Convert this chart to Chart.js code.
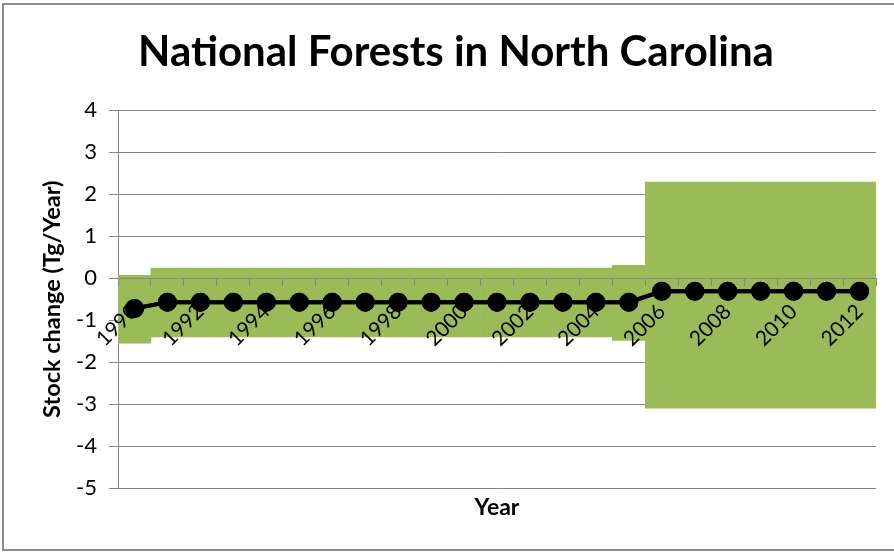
<!DOCTYPE html>
<html>
<head>
<meta charset="utf-8">
<script src="https://cdn.jsdelivr.net/npm/chart.js@4.4.1/dist/chart.umd.min.js"></script>
<style>
  body { margin: 0; background: #fff; }
  #wrap { width: 894px; height: 552px; }
</style>
</head>
<body>
<div id="wrap"><canvas id="trends" width="894" height="552"></canvas></div>
<script>
// years on the category axis
var years = ['1990','1991','1992','1993','1994','1995','1996','1997','1998','1999','2000',
             '2001','2002','2003','2004','2005','2006','2007','2008','2009','2010','2011','2012'];

// stock change estimate (Tg/Year)
var stockChange = [-0.72, -0.57, -0.57, -0.57, -0.57, -0.57, -0.57, -0.57, -0.57, -0.57, -0.57,
                   -0.57, -0.57, -0.57, -0.57, -0.57, -0.31, -0.31, -0.31, -0.31, -0.31, -0.31, -0.31];

// uncertainty band, lower and upper bounds
var lowerBound = [-1.55, -1.40, -1.40, -1.40, -1.40, -1.40, -1.40, -1.40, -1.40, -1.40, -1.40,
                  -1.40, -1.40, -1.40, -1.40, -1.48, -3.10, -3.10, -3.10, -3.10, -3.10, -3.10, -3.10];
var upperBound = [0.07, 0.24, 0.24, 0.24, 0.24, 0.24, 0.24, 0.24, 0.24, 0.24, 0.24,
                  0.24, 0.24, 0.24, 0.24, 0.31, 2.29, 2.29, 2.29, 2.29, 2.29, 2.29, 2.29];

var yTicks = [4, 3, 2, 1, 0, -1, -2, -3, -4, -5];

var FONT = 'Lato, "Open Sans", sans-serif';
var GRAY = '#868686';

var band = years.map(function (y, i) { return [lowerBound[i], upperBound[i]]; });

// white background and the outer frame
var frame = {
    id: 'frame',
    beforeDraw: function (chart) {
        var c = chart.ctx;
        c.save();
        c.fillStyle = '#fff';
        c.fillRect(0, 0, chart.width, chart.height);
        c.strokeStyle = '#8c8c8c';
        c.lineWidth = 2;
        c.beginPath();
        c.moveTo(chart.width + 5, 4);
        c.lineTo(3, 4);
        c.lineTo(3, 550);
        c.lineTo(chart.width + 5, 550);
        c.stroke();
        c.restore();
    },
    // put the line back above the year labels
    afterDraw: function (chart) {
        var meta = chart.getDatasetMeta(1);
        if (meta && meta.controller) meta.controller.draw();
    }
};

var ctx = document.getElementById('trends');
var myChart = new Chart(ctx, {
    type: 'bar',
    data: {
        labels: years,
        datasets: [
            {
                label: 'range',
                data: band,
                backgroundColor: '#9BBB59',
                borderWidth: 0,
                barPercentage: 1,
                categoryPercentage: 1,
                order: 2
            },
            {
                type: 'line',
                label: 'Stock change',
                data: stockChange,
                borderColor: '#000',
                borderWidth: 4,
                pointRadius: 7.5,
                pointBackgroundColor: '#000',
                pointBorderColor: '#000',
                tension: 0,
                order: 1
            }
        ]
    },
    options: {
        responsive: false,
        animation: false,
        events: [],
        layout: { padding: { left: 36, right: 18, top: 0, bottom: 0 } },
        plugins: {
            legend: { display: false },
            tooltip: { enabled: false },
            title: {
                display: true,
                text: 'National Forests in North Carolina',
                color: '#000',
                font: { family: FONT, size: 42, weight: 'bold', lineHeight: 1.2 },
                padding: { top: 27, bottom: 33 }
            }
        },
        scales: {
            x: {
                type: 'category',
                position: 'bottom',
                offset: true,
                grid: { display: false, drawTicks: false },
                border: { display: false },
                ticks: { display: false },
                title: {
                    display: true,
                    text: 'Year',
                    color: '#000',
                    font: { family: FONT, size: 23, weight: 'bold', lineHeight: 1.2 },
                    padding: { top: 0, bottom: 31 }
                },
                afterFit: function (scale) { scale.height = 64; }
            },
            x0: {
                type: 'category',
                labels: years,
                position: { y: 0 },
                offset: true,
                grid: {
                    offset: true,
                    drawOnChartArea: false,
                    drawTicks: true,
                    tickLength: 7,
                    color: GRAY,
                    z: 1
                },
                border: { display: true, color: GRAY, width: 1, z: 1 },
                ticks: {
                    autoSkip: false,
                    minRotation: 45,
                    maxRotation: 45,
                    padding: 14,
                    color: '#000',
                    z: 1,
                    font: { family: FONT, size: 21 },
                    callback: function (v, i) { return i % 2 === 0 ? years[i] : ''; }
                },
                afterFit: function (scale) { scale.height = 0; }
            },
            y: {
                min: -5,
                max: 4,
                afterBuildTicks: function (scale) {
                    scale.ticks = yTicks.map(function (v) { return { value: v }; });
                },
                grid: { color: GRAY, tickLength: 9, drawTicks: true },
                border: { display: true, color: GRAY },
                ticks: {
                    padding: 12,
                    color: '#000',
                    font: { family: FONT, size: 22 }
                },
                title: {
                    display: true,
                    text: 'Stock change (Tg/Year)',
                    color: '#000',
                    font: { family: FONT, size: 23.5, weight: 'bold', lineHeight: 1.2 },
                    padding: { top: 2, bottom: 0 }
                },
                afterFit: function (scale) { scale.width = 82; }
            }
        }
    },
    plugins: [frame]
});
</script>
</body>
</html>
